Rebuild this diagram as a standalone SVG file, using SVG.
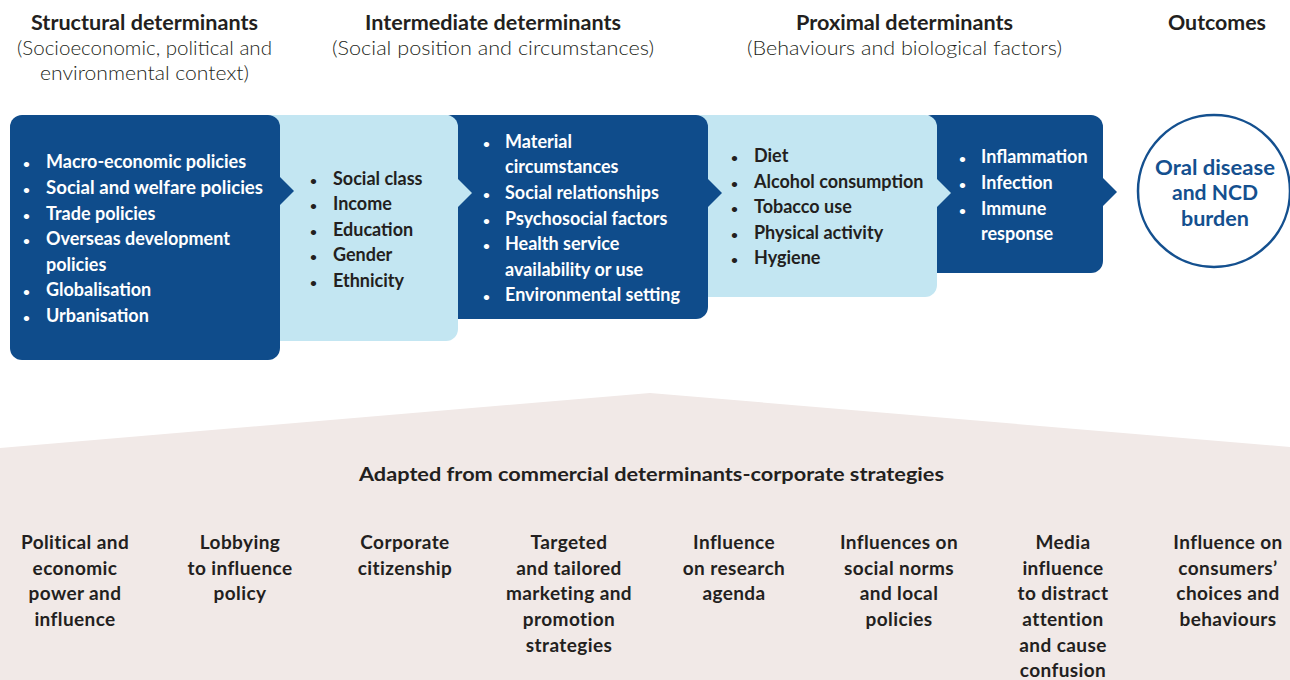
<svg xmlns="http://www.w3.org/2000/svg" width="1290" height="680" viewBox="0 0 1290 680">
<style>
.hd{font-family:Lato,"Liberation Sans",sans-serif;font-weight:700;font-size:20px;fill:#231f20;text-anchor:middle}
.sub{font-family:Lato,"Liberation Sans",sans-serif;font-weight:300;font-size:19px;fill:#231f20;text-anchor:middle}
.wt{font-family:Lato,"Liberation Sans",sans-serif;font-weight:700;font-size:18px;fill:#ffffff}
.bk{font-family:Lato,"Liberation Sans",sans-serif;font-weight:700;font-size:18px;fill:#231f20}
.bl{font-size:12px}
.dark{fill:#0f4c8b}
.light{fill:#c3e6f2}
.ct{font-family:Lato,"Liberation Sans",sans-serif;font-weight:700;font-size:20.5px;fill:#14508f;text-anchor:middle}
.bt{font-family:Lato,"Liberation Sans",sans-serif;font-weight:700;font-size:19px;letter-spacing:0.4px;fill:#231f20;text-anchor:middle}
.bh{font-family:Lato,"Liberation Sans",sans-serif;font-weight:700;font-size:19px;fill:#231f20;text-anchor:middle}
</style>
<rect width="1290" height="680" fill="#ffffff"/>
<polygon points="0,448 650,393 1290,447 1290,680 0,680" fill="#f1e9e7"/>

<g id="headers">
<text class="hd" x="144.5" y="30" textLength="227" lengthAdjust="spacingAndGlyphs">Structural determinants</text>
<text class="sub" x="144.5" y="55" textLength="255" lengthAdjust="spacingAndGlyphs">(Socioeconomic, political and</text>
<text class="sub" x="144.5" y="80" textLength="209" lengthAdjust="spacingAndGlyphs">environmental context)</text>
<text class="hd" x="493" y="30" textLength="256" lengthAdjust="spacingAndGlyphs">Intermediate determinants</text>
<text class="sub" x="493" y="55" textLength="322" lengthAdjust="spacingAndGlyphs">(Social position and circumstances)</text>
<text class="hd" x="904.5" y="30" textLength="217" lengthAdjust="spacingAndGlyphs">Proximal determinants</text>
<text class="sub" x="904.5" y="55" textLength="315" lengthAdjust="spacingAndGlyphs">(Behaviours and biological factors)</text>
<text class="hd" x="1217" y="30" textLength="98" lengthAdjust="spacingAndGlyphs">Outcomes</text>
</g>

<g id="outcome">
<circle cx="1214" cy="191" r="76" fill="#ffffff" stroke="#14508f" stroke-width="2.5"/>
<text class="ct" x="1215" y="175" textLength="120" lengthAdjust="spacingAndGlyphs">Oral disease</text>
<text class="ct" x="1215" y="200" textLength="86" lengthAdjust="spacingAndGlyphs">and NCD</text>
<text class="ct" x="1215" y="226" textLength="68" lengthAdjust="spacingAndGlyphs">burden</text>
</g>

<g id="proximal-bio">
<rect class="dark" x="920" y="115" width="183" height="158" rx="12"/>
<g class="wt">
<text class="bl" x="959" y="163">•</text><text x="981" y="163">Inflammation</text>
<text class="bl" x="959" y="189">•</text><text x="981" y="189">Infection</text>
<text class="bl" x="959" y="215">•</text><text x="981" y="215">Immune</text>
<text x="981" y="240">response</text>
</g>
</g>

<g id="proximal-behaviour">
<rect class="light" x="690" y="115" width="247" height="182" rx="12"/>
<g class="bk">
<text class="bl" x="731" y="162">•</text><text x="754" y="162">Diet</text>
<text class="bl" x="731" y="188">•</text><text x="754" y="188">Alcohol consumption</text>
<text class="bl" x="731" y="213">•</text><text x="754" y="213">Tobacco use</text>
<text class="bl" x="731" y="239">•</text><text x="754" y="239">Physical activity</text>
<text class="bl" x="731" y="264">•</text><text x="754" y="264">Hygiene</text>
</g>
</g>

<g id="intermediate-circumstances">
<rect class="dark" x="440" y="115" width="268" height="204" rx="12"/>
<g class="wt">
<text class="bl" x="483" y="148">•</text><text x="505" y="148">Material</text>
<text x="505" y="173">circumstances</text>
<text class="bl" x="483" y="199">•</text><text x="505" y="199">Social relationships</text>
<text class="bl" x="483" y="225">•</text><text x="505" y="225">Psychosocial factors</text>
<text class="bl" x="483" y="250">•</text><text x="505" y="250">Health service</text>
<text x="505" y="276">availability or use</text>
<text class="bl" x="483" y="301">•</text><text x="505" y="301">Environmental setting</text>
</g>
</g>

<g id="intermediate-position">
<rect class="light" x="260" y="115" width="198" height="226" rx="12"/>
<g class="bk">
<text class="bl" x="310" y="185">•</text><text x="333" y="185">Social class</text>
<text class="bl" x="310" y="210">•</text><text x="333" y="210">Income</text>
<text class="bl" x="310" y="236">•</text><text x="333" y="236">Education</text>
<text class="bl" x="310" y="261">•</text><text x="333" y="261">Gender</text>
<text class="bl" x="310" y="287">•</text><text x="333" y="287">Ethnicity</text>
</g>
</g>

<g id="structural">
<rect class="dark" x="10" y="115" width="270" height="245" rx="12"/>
<g class="wt">
<text class="bl" x="23" y="168">•</text><text x="46" y="168">Macro-economic policies</text>
<text class="bl" x="23" y="194">•</text><text x="46" y="194" textLength="217" lengthAdjust="spacingAndGlyphs">Social and welfare policies</text>
<text class="bl" x="23" y="220">•</text><text x="46" y="220">Trade policies</text>
<text class="bl" x="23" y="245">•</text><text x="46" y="245">Overseas development</text>
<text x="46" y="271">policies</text>
<text class="bl" x="23" y="296">•</text><text x="46" y="296">Globalisation</text>
<text class="bl" x="23" y="322">•</text><text x="46" y="322">Urbanisation</text>
</g>
</g>

<g id="connectors">
<polygon class="dark" points="279,176 294,191 279,206"/>
<polygon class="light" points="457,178 472,193 457,208"/>
<polygon class="dark" points="707,178 722,193 707,208"/>
<polygon class="light" points="936,178 951,193 936,208"/>
<polygon class="dark" points="1102,177 1117,192 1102,207"/>
</g>

<g id="strategies">
<text class="bh" x="651.5" y="481" textLength="585" lengthAdjust="spacingAndGlyphs">Adapted from commercial determinants-corporate strategies</text>
<g id="s1"><text class="bt" x="75" y="549">Political and</text><text class="bt" x="75" y="575">economic</text><text class="bt" x="75" y="600">power and</text><text class="bt" x="75" y="626">influence</text></g>
<g id="s2"><text class="bt" x="240" y="549">Lobbying</text><text class="bt" x="240" y="575">to influence</text><text class="bt" x="240" y="600">policy</text></g>
<g id="s3"><text class="bt" x="405" y="549">Corporate</text><text class="bt" x="405" y="575">citizenship</text></g>
<g id="s4"><text class="bt" x="569" y="549">Targeted</text><text class="bt" x="569" y="575">and tailored</text><text class="bt" x="569" y="600">marketing and</text><text class="bt" x="569" y="626">promotion</text><text class="bt" x="569" y="652">strategies</text></g>
<g id="s5"><text class="bt" x="734" y="549">Influence</text><text class="bt" x="734" y="575">on research</text><text class="bt" x="734" y="600">agenda</text></g>
<g id="s6"><text class="bt" x="899" y="549">Influences on</text><text class="bt" x="899" y="575">social norms</text><text class="bt" x="899" y="600">and local</text><text class="bt" x="899" y="626">policies</text></g>
<g id="s7"><text class="bt" x="1063" y="549">Media</text><text class="bt" x="1063" y="575">influence</text><text class="bt" x="1063" y="600">to distract</text><text class="bt" x="1063" y="626">attention</text><text class="bt" x="1063" y="652">and cause</text><text class="bt" x="1063" y="677">confusion</text></g>
<g id="s8"><text class="bt" x="1228" y="549">Influence on</text><text class="bt" x="1228" y="575">consumers’</text><text class="bt" x="1228" y="600">choices and</text><text class="bt" x="1228" y="626">behaviours</text></g>
</g>
</svg>
